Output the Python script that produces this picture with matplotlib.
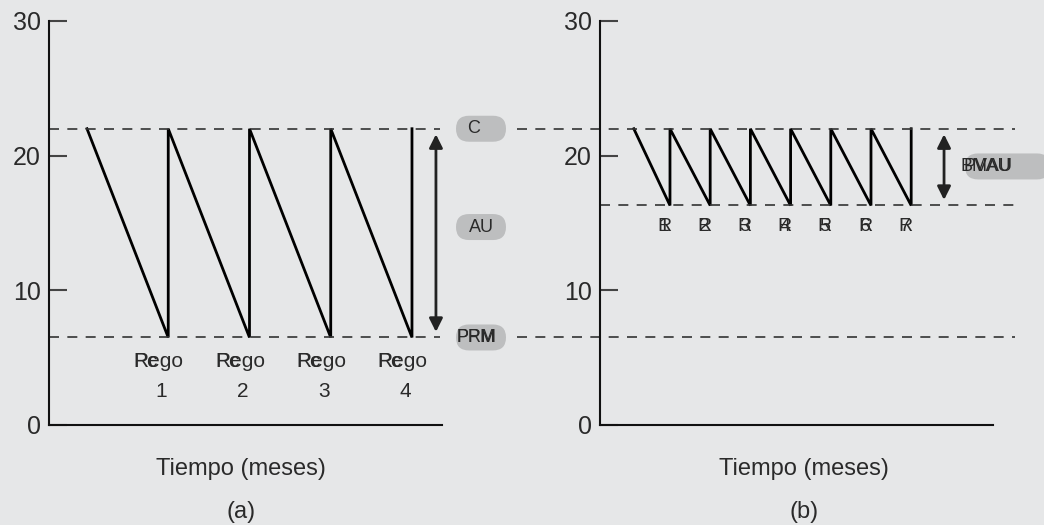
import matplotlib
matplotlib.use("Agg")
import matplotlib.pyplot as plt
from matplotlib.patches import FancyBboxPatch
from matplotlib.transforms import IdentityTransform

plt.rcParams['font.family'] = ['Liberation Sans', 'DejaVu Sans']

# niveles de inventario
nivel_max = 22.0
punto_reorden = 6.5
nivel_min_b = 16.3

# (a) pedidos grandes: inicio y llegada de cada pedido
tiempos_a = [1, 3, 5, 7, 9]
etiquetas_a = ["1", "2", "3", "4"]

# (b) pedidos pequeños y frecuentes
tiempos_b = [1.1, 2, 3, 4, 5, 6, 7, 8]
etiquetas_b = ["1", "2", "3", "4", "5", "6", "7"]

yticks = [0, 10, 20, 30]
fondo = '#e6e7e8'
gris_pill = '#bdbebf'
texto = '#2a2a2a'


def sierra(tiempos, alto, bajo):
    xs, ys = [tiempos[0]], [alto]
    for t in tiempos[1:]:
        xs += [t, t]
        ys += [bajo, alto]
    return xs, ys


def pill(fig, x0, x1, ycen, h=26):
    fig.patches.append(FancyBboxPatch(
        (x0, ycen - h / 2), x1 - x0, h,
        boxstyle="round,pad=0,rounding_size=%g" % (h / 2),
        transform=IdentityTransform(), fc=gris_pill, ec='none', zorder=1))


def rotulo(fig, x, ycen, *txts):
    for t in txts:
        fig.text(x, ycen, t, transform=IdentityTransform(), ha='center',
                 va='center', fontsize=13, color=texto, zorder=3)


def ejes(ax, xlim):
    ax.set_facecolor(fondo)
    ax.set_xlim(*xlim)
    ax.set_ylim(0, 30)
    for s in ['top', 'right']:
        ax.spines[s].set_visible(False)
    for s in ['left', 'bottom']:
        ax.spines[s].set_linewidth(1.5)
        ax.spines[s].set_color('#111111')
    ax.set_yticks(yticks)
    ax.set_xticks([])
    ax.tick_params(axis='y', direction='in', length=13, width=1.5,
                   color='#444444', labelsize=18, labelcolor=texto, pad=6)


fig = plt.figure(figsize=(10.44, 5.25), dpi=100, facecolor=fondo)

ax1 = fig.add_axes([49 / 1044, 100 / 525, 393 / 1044, 404 / 525])
ax2 = fig.add_axes([600 / 1044, 100 / 525, 393 / 1044, 404 / 525])
ejes(ax1, (0.0646, 9.739))
ejes(ax2, (0.259, 10.035))

dash = (0, (6, 5))

# ---- (a)
xs, ys = sierra(tiempos_a, nivel_max, punto_reorden)
ax1.plot(xs, ys, color='black', lw=2, solid_joinstyle='miter')
for y in [nivel_max, punto_reorden]:
    ax1.plot([0.0646, 9.69], [y, y], ls=dash, color='#333333', lw=1.2,
             clip_on=False)
for t, lab in zip(tiempos_a[1:], etiquetas_a):
    ax1.text(t - 0.85, 4.68, "Rego", ha='left', va='center', fontsize=15,
             color=texto)
    ax1.text(t - 0.85, 4.68, "Pc", ha='left', va='center', fontsize=15,
             color=texto)
    ax1.text(t - 0.17, 2.52, lab, ha='center', va='center', fontsize=15,
             color=texto)
ax1.annotate('', xy=(9.59, nivel_max), xytext=(9.59, punto_reorden),
             arrowprops=dict(arrowstyle='<|-|>', lw=2, color='#222222',
                             mutation_scale=20, shrinkA=4, shrinkB=4),
             annotation_clip=False)
ax1.text(0.489, -0.108, "Tiempo (meses)", transform=ax1.transAxes,
         ha='center', va='center', fontsize=17, color=texto)
ax1.text(0.489, -0.215, "(a)", transform=ax1.transAxes,
         ha='center', va='center', fontsize=17, color=texto)

# ---- (b)
xs, ys = sierra(tiempos_b, nivel_max, nivel_min_b)
ax2.plot(xs, ys, color='black', lw=2, solid_joinstyle='miter')
for y in [nivel_max, punto_reorden]:
    ax2.plot([-1.806, 10.58], [y, y], ls=dash, color='#333333', lw=1.2,
             clip_on=False)
ax2.plot([0.259, 10.58], [nivel_min_b, nivel_min_b], ls=dash,
         color='#333333', lw=1.2, clip_on=False)
for t, lab in zip(tiempos_b[1:], etiquetas_b):
    for s in ["R", lab]:
        ax2.text(t - 0.15, 14.73, s, ha='center', va='center', fontsize=14,
                 color=texto)
ax2.annotate('', xy=(8.817, nivel_max), xytext=(8.817, nivel_min_b),
             arrowprops=dict(arrowstyle='<|-|>', lw=2, color='#222222',
                             mutation_scale=20, shrinkA=4, shrinkB=4),
             annotation_clip=False)
ax2.text(0.52, -0.108, "Tiempo (meses)", transform=ax2.transAxes,
         ha='center', va='center', fontsize=17, color=texto)
ax2.text(0.52, -0.215, "(b)", transform=ax2.transAxes,
         ha='center', va='center', fontsize=17, color=texto)


# ---- rotulos grises
def ypix(ax, v):
    return ax.transData.transform((ax.get_xlim()[0], v))[1]


pill(fig, 456, 506, ypix(ax1, nivel_max))
rotulo(fig, 474, ypix(ax1, nivel_max), "C")
pill(fig, 456, 506, ypix(ax1, 14.7))
rotulo(fig, 481, ypix(ax1, 14.7), "AU")
pill(fig, 456, 506, ypix(ax1, punto_reorden))
rotulo(fig, 476, ypix(ax1, punto_reorden), "PPM", "PRM")
pill(fig, 965, 1050, ypix(ax1, 19.2))
rotulo(fig, 987, ypix(ax1, 19.2), "BMAU", "PVAU")

fig.savefig("out.png", dpi=100, facecolor=fondo)
